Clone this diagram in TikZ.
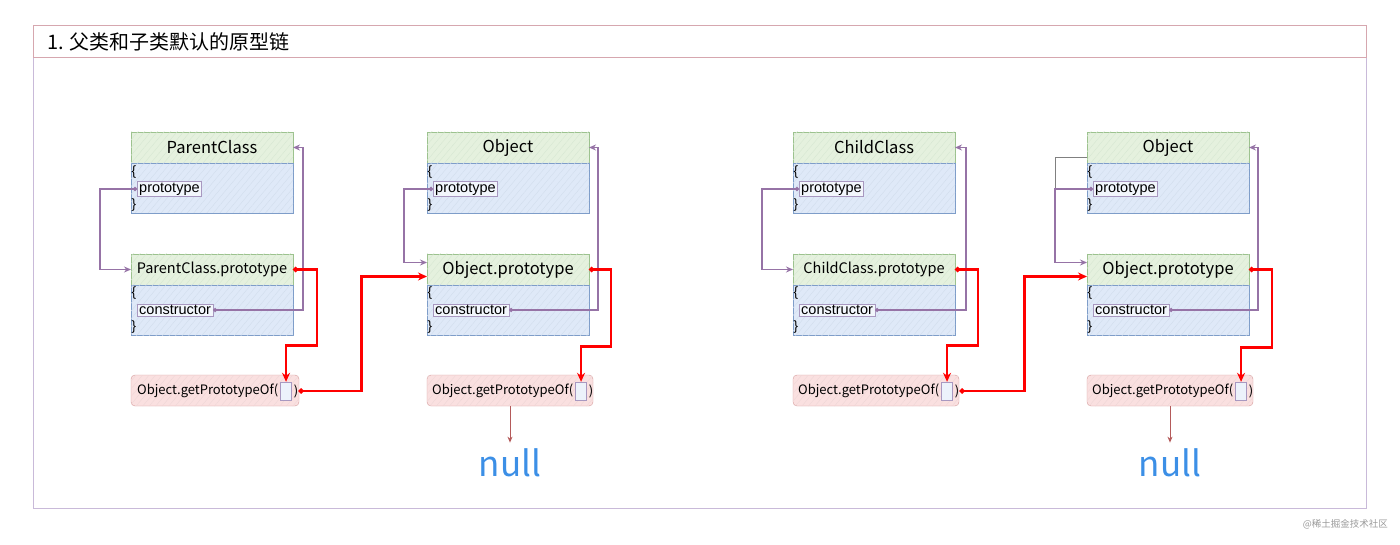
\documentclass[tikz,border=0pt]{standalone}
\usepackage{fontspec}
\setmainfont{Liberation Sans}
\newfontfamily\cjk{Noto Sans CJK SC}
\usetikzlibrary{positioning,arrows.meta,patterns.meta}

\definecolor{hdrfill}{HTML}{E5F1DE}
\definecolor{hdrline}{HTML}{9CC28E}
\definecolor{bodyfill}{HTML}{DFE9F8}
\definecolor{bodyline}{HTML}{7E9DC9}
\definecolor{gpfill}{HTML}{FAE0E0}
\definecolor{gpline}{HTML}{D49A9A}
\definecolor{purp}{HTML}{9673A6}
\definecolor{slotline}{HTML}{A898C0}
\definecolor{nullblue}{HTML}{3C8FE6}
\definecolor{nullline}{HTML}{B45A5A}
\definecolor{frameline}{HTML}{C9BAD9}
\definecolor{titleline}{HTML}{D6A7AF}

\tikzset{
  hdr/.style={draw=hdrline, fill=hdrfill, minimum width=162pt, minimum height=31pt,
    anchor=north west, inner sep=0pt, outer sep=0pt, font=\cjk\fontsize{16.5}{18}\selectfont,
    postaction={pattern={Lines[angle=50,distance=5pt,line width=.4pt]}, pattern color=hdrline!40}},
  body/.style={draw=bodyline, fill=bodyfill, minimum width=162pt, minimum height=50pt,
    inner sep=0pt, outer sep=0pt,
    postaction={pattern={Lines[angle=50,distance=5pt,line width=.4pt]}, pattern color=bodyline!35}},
  slot/.style={draw=slotline, fill=bodyfill!40!white, anchor=west, inner xsep=2pt, inner ysep=1.5pt,
    font=\fontsize{14.5}{16}\selectfont},
  brace/.style={anchor=west, inner sep=0.5pt, font=\fontsize{13.5}{15}\selectfont},
  gpbox/.style={draw=gpline, fill=gpfill, rounded corners=4pt, minimum width=#1,
    minimum height=31pt, anchor=north west, inner sep=0pt, outer sep=0pt,
    postaction={pattern={Lines[angle=50,distance=5pt,line width=.4pt]}, pattern color=gpline!40}},
  gptext/.style={anchor=west, inner sep=0pt, font=\cjk\fontsize{13}{15}\selectfont},
  gpslot/.style={draw=slotline, fill=bodyfill!60!white, minimum width=11pt, minimum height=18pt, inner sep=0pt},
  purpline/.style={draw=purp, line width=1.5pt, {Circle[length=4pt]}-{Stealth[length=7pt,width=6pt]}},
  redline/.style={draw=red, line width=2.4pt, {Circle[length=5pt]}-{Stealth[length=9pt,width=8pt]}},
  nullarrow/.style={draw=nullline, line width=0.9pt, -{Stealth[length=6pt,width=5pt]}},
  nulltext/.style={text=nullblue, inner sep=0pt, font=\cjk\fontsize{35}{38}\selectfont}
}

\begin{document}
\begin{tikzpicture}[x=1pt,y=-1pt]
  \useasboundingbox (0,0) rectangle (1400,545);
  % frame and title
  \draw[frameline, line width=0.8pt] (33,25) rectangle (1366,508);
  \draw[titleline, line width=0.8pt] (33,25) rectangle (1366,57);
  \node[anchor=west, inner sep=0pt, font=\cjk\fontsize{20}{22}\selectfont] (title) at (47,42) {1. 父类和子类默认的原型链};
  \node[anchor=east, inner sep=0pt, text=black!40, font=\cjk\fontsize{9.5}{11}\selectfont] (mark) at (1388,524) {@稀土掘金技术社区};

  % ParentClass
  \node[hdr] (pc) at (131,132) {ParentClass};
  \node[body, below=0pt of pc] (pcb) {};
  \node[brace] (pcl) at (131,172) {\{};
  \node[slot] (pcproto) at (137,189) {prototype};
  \node[brace] (pcr) at (131,205) {\}};
  \node[hdr, font=\cjk\fontsize{14.5}{16}\selectfont] (pcp) at (131,254) {ParentClass.prototype};
  \node[body, below=0pt of pcp] (pcpb) {};
  \node[brace] (pcpl) at (131,293) {\{};
  \node[slot] (pccon) at (137,310) {constructor};
  \node[brace] (pcpr) at (131,327) {\}};
  \node[gpbox=168pt] (gp1) at (131,375) {};
  \node[gptext] (gp1t) at (137,391) {Object.getPrototypeOf(};
  \node[gpslot, right=2pt of gp1t] (gp1s) {};
  \node[gptext, right=2pt of gp1s] (gp1c) {)};

  % Object
  \node[hdr] (ob) at (427,132) {Object};
  \node[body, below=0pt of ob] (obb) {};
  \node[brace] (obl) at (427,172) {\{};
  \node[slot] (obproto) at (433,189) {prototype};
  \node[brace] (obr) at (427,205) {\}};
  \node[hdr] (op) at (427,254) {Object.prototype};
  \node[body, below=0pt of op] (opb) {};
  \node[brace] (opl) at (427,293) {\{};
  \node[slot] (opcon) at (433,310) {constructor};
  \node[brace] (opr) at (427,327) {\}};
  \node[gpbox=166pt] (gp2) at (427,375) {};
  \node[gptext] (gp2t) at (432,391) {Object.getPrototypeOf(};
  \node[gpslot, right=2pt of gp2t] (gp2s) {};
  \node[gptext, right=2pt of gp2s] (gp2c) {)};
  \node[nulltext] (null1) at (510,463) {null};

  % ChildClass
  \node[hdr] (cc) at (793,132) {ChildClass};
  \node[body, below=0pt of cc] (ccb) {};
  \node[brace] (ccl) at (793,172) {\{};
  \node[slot] (ccproto) at (799,189) {prototype};
  \node[brace] (ccr) at (793,205) {\}};
  \node[hdr, font=\cjk\fontsize{14.5}{16}\selectfont] (ccp) at (793,254) {ChildClass.prototype};
  \node[body, below=0pt of ccp] (ccpb) {};
  \node[brace] (ccpl) at (793,293) {\{};
  \node[slot] (cccon) at (799,310) {constructor};
  \node[brace] (ccpr) at (793,327) {\}};
  \node[gpbox=166pt] (gp3) at (793,375) {};
  \node[gptext] (gp3t) at (798,391) {Object.getPrototypeOf(};
  \node[gpslot, right=2pt of gp3t] (gp3s) {};
  \node[gptext, right=2pt of gp3s] (gp3c) {)};

  % Object (child side)
  \node[draw=black!50, fill=white, minimum width=32pt, minimum height=31pt, inner sep=0pt, anchor=north west] (blank) at (1055,157) {};
  \node[hdr] (ob2) at (1087,132) {Object};
  \node[body, below=0pt of ob2] (ob2b) {};
  \node[brace] (ob2l) at (1087,172) {\{};
  \node[slot] (ob2proto) at (1093,189) {prototype};
  \node[brace] (ob2r) at (1087,205) {\}};
  \node[hdr] (op2) at (1087,254) {Object.prototype};
  \node[body, below=0pt of op2] (op2b) {};
  \node[brace] (op2l) at (1087,293) {\{};
  \node[slot] (op2con) at (1093,310) {constructor};
  \node[brace] (op2r) at (1087,327) {\}};
  \node[gpbox=166pt] (gp4) at (1087,375) {};
  \node[gptext] (gp4t) at (1092,391) {Object.getPrototypeOf(};
  \node[gpslot, right=2pt of gp4t] (gp4s) {};
  \node[gptext, right=2pt of gp4s] (gp4c) {)};
  \node[nulltext] (null2) at (1170,463) {null};

  % purple links
  \draw[purpline] (pcproto.west) -- ++(-37,0) |- (pcp.west);
  \draw[purpline] (pccon.east) -| ([xshift=10pt]pc.east) -- (pc.east);
  \draw[purpline] (obproto.west) -- ++(-29,0) |- ([yshift=7pt]op.west);
  \draw[purpline] (opcon.east) -| ([xshift=9pt]ob.east) -- (ob.east);
  \draw[purpline] (ccproto.west) -- ++(-37,0) |- (ccp.west);
  \draw[purpline] (cccon.east) -| ([xshift=11pt]cc.east) -- (cc.east);
  \draw[purpline] (ob2proto.west) -- ++(-38,0) |- ([yshift=7pt]op2.west);
  \draw[purpline] (op2con.east) -| ([xshift=9pt]ob2.east) -- (ob2.east);

  % red links
  \draw[redline] (pcp.east) -- ++(24,0) -- ++(0,76) -| (gp1s.north);
  \draw[redline] (gp1c.east) -- ++(63,0) |- ([yshift=-7pt]op.west);
  \draw[redline] (op.east) -- ++(22,0) -- ++(0,77) -| (gp2s.north);
  \draw[redline] (ccp.east) -- ++(23,0) -- ++(0,76) -| (gp3s.north);
  \draw[redline] (gp3c.east) -- ++(65,0) |- ([yshift=-7pt]op2.west);
  \draw[redline] (op2.east) -- ++(23,0) -- ++(0,78) -| (gp4s.north);

  % to null
  \draw[nullarrow] (gp2.south) -- ([yshift=6pt]null1.north);
  \draw[nullarrow] (gp4.south) -- ([yshift=6pt]null2.north);
\end{tikzpicture}
\end{document}
